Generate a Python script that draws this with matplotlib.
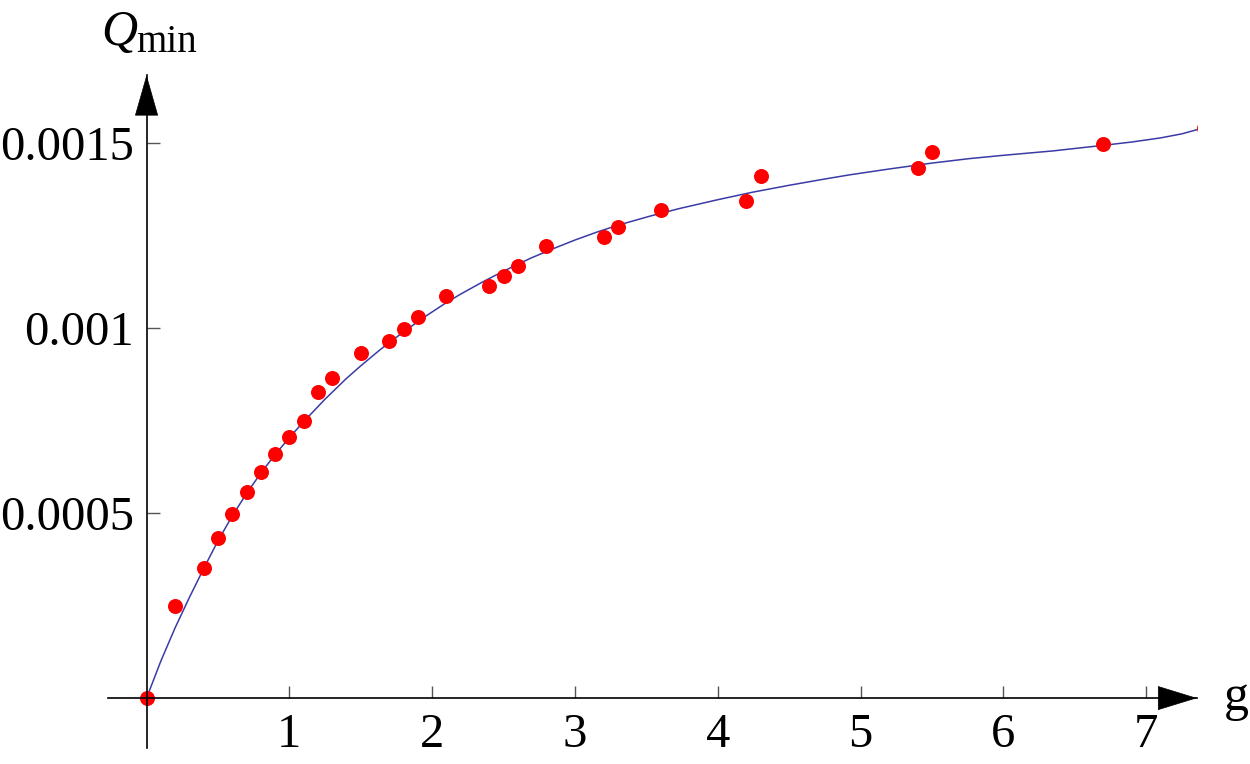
import matplotlib
matplotlib.use('Agg')
from matplotlib import pyplot as plt

plt.rcParams['font.family'] = ['Liberation Serif', 'DejaVu Serif']

# measured points
g_pts = [0.0, 0.2, 0.4, 0.5, 0.6, 0.7, 0.8, 0.9, 1.0, 1.1, 1.2, 1.3, 1.5, 1.7,
         1.8, 1.9, 2.1, 2.4, 2.5, 2.6, 2.8, 3.2, 3.3, 3.6, 4.2, 4.3, 5.4, 5.5,
         6.7, 7.405]
q_pts = [0.0, 0.000249, 0.000351, 0.000432, 0.000498, 0.000557, 0.000611,
         0.00066, 0.000705, 0.000748, 0.000827, 0.000864, 0.000932, 0.000966,
         0.000997, 0.001029, 0.001087, 0.001114, 0.001142, 0.001169, 0.001222,
         0.001247, 0.001272, 0.00132, 0.001344, 0.001412, 0.001432, 0.001476,
         0.001497, 0.00154]

# fitted curve
g_fit = [0.0, 0.1, 0.2, 0.3, 0.4, 0.5, 0.6, 0.7, 0.8, 0.9, 1.0, 1.1, 1.25,
         1.4, 1.5, 1.64, 1.8, 1.95, 2.1, 2.2, 2.35, 2.5, 2.69, 2.85, 3.0, 3.15,
         3.3, 3.52, 3.73, 4.0, 4.24, 4.5, 4.75, 4.92, 5.2, 5.5, 5.76, 6.0,
         6.35, 6.7, 6.9, 7.1, 7.25, 7.4]
q_fit = [0.0, 0.0001, 0.00019, 0.000272, 0.00035, 0.000425, 0.000492,
         0.000553, 0.000608, 0.000658, 0.000704, 0.000747, 0.000808, 0.000864,
         0.000898, 0.000943, 0.00099, 0.001031, 0.001069, 0.001092, 0.001124,
         0.001154, 0.001189, 0.001215, 0.001238, 0.001259, 0.001278, 0.001302,
         0.001323, 0.001347, 0.001367, 0.001386, 0.001403, 0.001414, 0.00143,
         0.001446, 0.001458, 0.001467, 0.001479, 0.001494, 0.001503, 0.001514,
         0.001525, 0.001541]

x_ticks = [1, 2, 3, 4, 5, 6, 7]
y_ticks = [0.0005, 0.001, 0.0015]
y_tick_labels = ['0.0005', '0.001', '0.0015']

fig = plt.figure(figsize=(12.5, 7.64), dpi=100)
ax = fig.add_axes([0.0864, 0.0209, 0.8712, 0.8809])

ax.plot(g_fit, q_fit, color='#3b3ba6', linewidth=1.1, zorder=2)
ax.plot(g_pts, q_pts, linestyle='none', marker='o', markersize=10.8,
        color='#ff0000', markeredgewidth=0, zorder=2.2)

ax.set_xlim(-0.27, 7.356)
ax.set_ylim(-0.000135, 0.001684)

for side in ['top', 'right']:
    ax.spines[side].set_visible(False)
ax.spines['left'].set_position(('data', 0))
ax.spines['bottom'].set_position(('data', 0))
for side in ['left', 'bottom']:
    ax.spines[side].set_linewidth(1.2)
    ax.spines[side].set_zorder(3)

ax.set_xticks(x_ticks)
ax.set_xticklabels([str(t) for t in x_ticks])
ax.set_yticks(y_ticks)
ax.set_yticklabels(y_tick_labels)
ax.tick_params(axis='both', direction='in', length=9, width=1,
               color='#555555', labelsize=35)
ax.tick_params(axis='x', pad=11)
ax.tick_params(axis='y', pad=9)

# arrow heads at the axis ends
ax.annotate('', xy=(1.0, 0), xycoords=('axes fraction', 'data'),
            xytext=(0.97, 0), textcoords=('axes fraction', 'data'),
            arrowprops=dict(arrowstyle='-|>,head_length=27,head_width=8.3',
                            mutation_scale=1, color='black', lw=0.5,
                            shrinkA=0, shrinkB=0),
            annotation_clip=False)
ax.annotate('', xy=(0, 1.0), xycoords=('data', 'axes fraction'),
            xytext=(0, 0.95), textcoords=('data', 'axes fraction'),
            arrowprops=dict(arrowstyle='-|>,head_length=28,head_width=8.0',
                            mutation_scale=1, color='black', lw=0.5,
                            shrinkA=0, shrinkB=0),
            annotation_clip=False)

# axis labels
fig.text(0.1096, 0.941, 'Q', fontsize=36, style='italic', ha='right',
         va='baseline')
fig.text(0.1088, 0.932, 'min', fontsize=28, ha='left', va='baseline')
fig.text(0.9895, 0.071, 'g', fontsize=36, ha='center', va='baseline')

fig.savefig('out.png', dpi=100)
